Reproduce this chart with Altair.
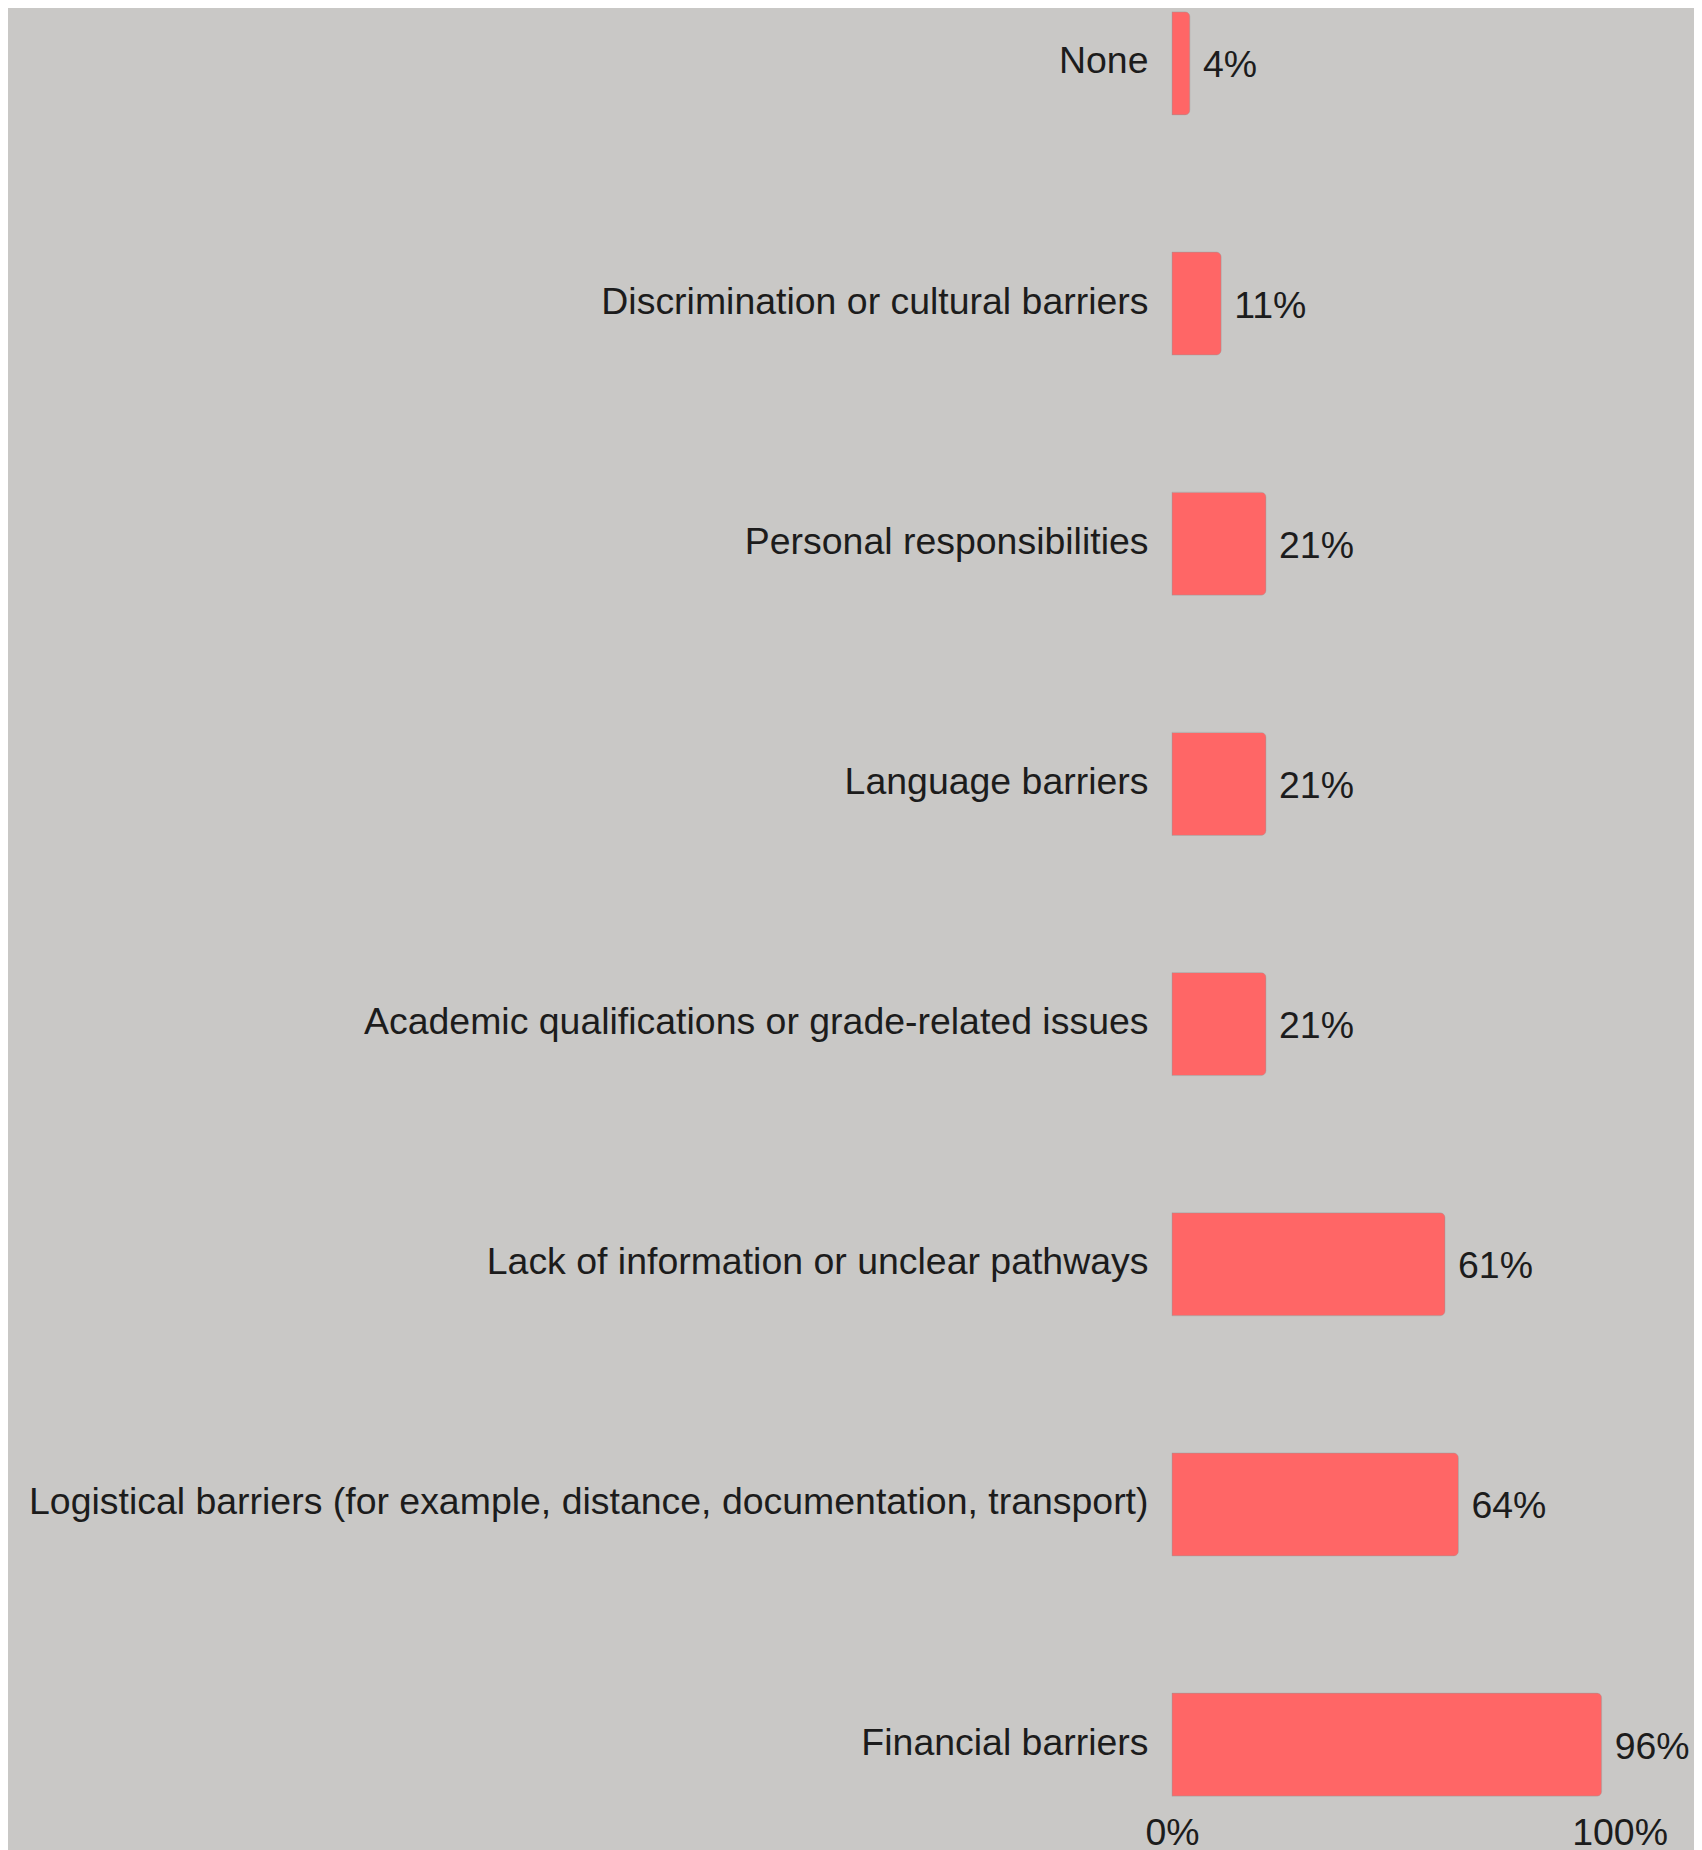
import altair as alt
import pandas as pd

categories = [
    "None",
    "Discrimination or cultural barriers",
    "Personal responsibilities",
    "Language barriers",
    "Academic qualifications or grade-related issues",
    "Lack of information or unclear pathways",
    "Logistical barriers (for example, distance, documentation, transport)",
    "Financial barriers",
]
values = [0.04, 0.11, 0.21, 0.21, 0.21, 0.61, 0.64, 0.96]
x_ticks = [0, 1]

df = pd.DataFrame({"category": categories, "value": values})

FONT = "Liberation Sans"
FS = 37.45
TXT = "#1c1c1c"

y_enc = alt.Y(
    "category:N",
    sort=categories,
    scale=alt.Scale(paddingInner=0.571, paddingOuter=0.016),
    axis=alt.Axis(
        title=None, ticks=False, domain=False, labelPadding=24,
        labelOffset=-1,
        labelFontSize=FS, labelFont=FONT, labelColor=TXT, labelLimit=2000,
    ),
)

bars = alt.Chart(df).mark_bar(
    color="#ff6666", cornerRadiusEnd=5,
    stroke="#9a9a9a", strokeOpacity=0.35, strokeWidth=1,
).encode(
    y=y_enc,
    x=alt.X(
        "value:Q",
        scale=alt.Scale(domain=[0, 1]),
        axis=alt.Axis(
            values=x_ticks, format="%", title=None, grid=False, ticks=False,
            domain=False, labelPadding=15, labelFontSize=FS, labelFont=FONT,
            labelColor=TXT, labelFlush=False,
        ),
    ),
)

text = alt.Chart(df).mark_text(
    align="left", dx=13, dy=3, font=FONT, fontSize=FS, color=TXT,
).encode(
    y=alt.Y("category:N", sort=categories),
    x="value:Q",
    text=alt.Text("value:Q", format=".0%"),
)

chart = (bars + text).properties(
    width=447.6,
    height=1792,
    background="#c9c8c6",
    padding={"left": 20, "top": 0, "right": 3, "bottom": 10},
).configure_view(stroke=None)

chart.save("out.html", embed_options={"renderer": "svg", "actions": False})
